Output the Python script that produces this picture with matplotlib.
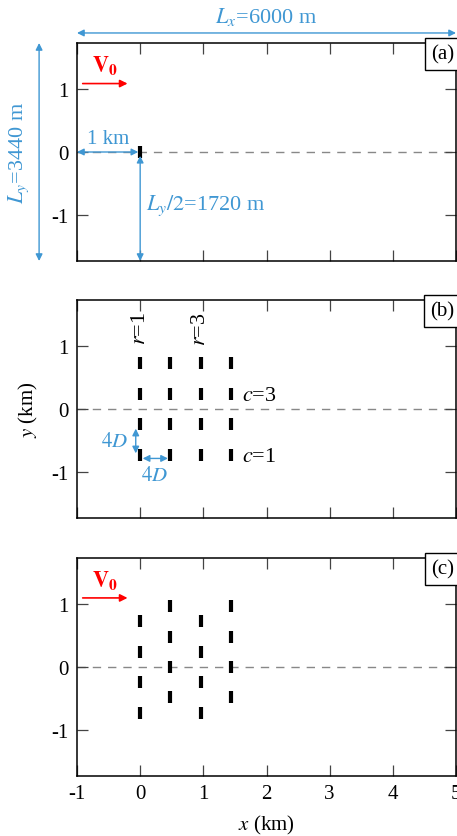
import matplotlib
matplotlib.use("Agg")
import matplotlib.pyplot as plt
import numpy as np

plt.rcParams['font.family'] = ['Liberation Serif', 'DejaVu Serif']
plt.rcParams['mathtext.fontset'] = 'stix'
plt.rcParams['axes.unicode_minus'] = False

# ---- data ----
x_ticks = [-1, 0, 1, 2, 3, 4, 5]
y_ticks = [-1, 0, 1]
x_lim = (-1.0, 5.0)
y_lim = (-1.72, 1.72)
panel_labels = ['(a)', '(b)', '(c)']

# turbine positions (km)
single_x = [0.0]
single_y = [0.0]
aligned_x = [0.0, 0.48, 0.96, 1.44] * 4
aligned_y = [-0.72] * 4 + [-0.24] * 4 + [0.24] * 4 + [0.72] * 4
stag_x = [0.0] * 4 + [0.48] * 4 + [0.96] * 4 + [1.44] * 4
stag_y = [-0.72, -0.24, 0.24, 0.72,
          -0.48, 0.0, 0.48, 0.96,
          -0.72, -0.24, 0.24, 0.72,
          -0.48, 0.0, 0.48, 0.96]
layouts = [(single_x, single_y), (aligned_x, aligned_y), (stag_x, stag_y)]

BLUE = '#3f97d3'
RED = '#ff0000'
FS = 15
half_len = 0.095

fig = plt.figure(figsize=(4.57, 8.37), dpi=100)
left = 77 / 457
width = 379 / 457
bottoms = [1 - 262 / 837, 1 - 519 / 837, 1 - 777 / 837]
height = 218 / 837
axes = []
for i, b in enumerate(bottoms):
    ax = fig.add_axes([left, b, width, height])
    axes.append(ax)
    ax.set_xlim(*x_lim)
    ax.set_ylim(*y_lim)
    ax.set_xticks(x_ticks)
    ax.set_yticks(y_ticks)
    ax.set_yticklabels([str(t) for t in y_ticks])
    if i == 2:
        ax.set_xticklabels([str(t) for t in x_ticks])
    else:
        ax.set_xticklabels([])
    ax.tick_params(direction='in', length=8, width=0.9, color='#444444',
                   top=True, right=True, labelsize=FS, pad=6)
    for s in ax.spines.values():
        s.set_linewidth(1.1)
    ax.axhline(0, color='#888888', lw=1.0, ls=(0, (6, 5)), zorder=1)
    tx, ty = layouts[i]
    ax.vlines(tx, np.array(ty) - half_len, np.array(ty) + half_len,
              color='black', lw=3, zorder=3)
    ax.text(0.996, 0.994, panel_labels[i], transform=ax.transAxes, ha='right', va='top',
            fontsize=FS, bbox=dict(boxstyle='square,pad=0.3', fc='white', ec='black', lw=1))

arrow_kw = dict(arrowstyle='<|-|>', color=BLUE, lw=1.0, mutation_scale=10,
                shrinkA=0, shrinkB=0)

# ---- panel (a) ----
ax = axes[0]
ax.annotate('', xy=(-1, 1.046), xytext=(5, 1.046), xycoords=('data', 'axes fraction'),
            textcoords=('data', 'axes fraction'), arrowprops=arrow_kw, annotation_clip=False)
ax.text(2.0, 1.125, r'$L_x$=6000 m', transform=ax.get_xaxis_transform(), ha='center',
        va='center', color=BLUE, fontsize=FS + 1)
ax.annotate('', xy=(-1.6, -1.72), xytext=(-1.6, 1.72), arrowprops=arrow_kw,
            annotation_clip=False)
ax.text(-1.93, 0.0, r'$L_y$=3440 m', rotation=90, ha='center', va='center',
        color=BLUE, fontsize=FS + 1, clip_on=False)
ax.annotate('', xy=(-1, 0), xytext=(-0.03, 0), arrowprops=arrow_kw)
ax.text(-0.5, 0.21, '1 km', ha='center', va='center', color=BLUE, fontsize=FS)
ax.annotate('', xy=(0, -1.72), xytext=(0, -0.06), arrowprops=arrow_kw)
ax.text(0.1, -0.83, r'$L_y/2$=1720 m', ha='left', va='center', color=BLUE, fontsize=FS + 1)

v_arrow = dict(arrowstyle='-|>', color=RED, lw=1.2, mutation_scale=11, shrinkA=0, shrinkB=0)
for ax, ya, yt in [(axes[0], 1.08, 1.36), (axes[2], 1.09, 1.36)]:
    ax.annotate('', xy=(-0.2, ya), xytext=(-0.91, ya), arrowprops=v_arrow)
    ax.text(-0.56, yt, r'$\mathbf{V_0}$', ha='center', va='center', color=RED, fontsize=FS + 1)

# ---- panel (b) ----
ax = axes[1]
ax.text(0.0, 1.28, r'$r$=1', rotation=90, ha='center', va='center', fontsize=FS + 1)
ax.text(0.96, 1.28, r'$r$=3', rotation=90, ha='center', va='center', fontsize=FS + 1)
ax.text(1.62, 0.21, r'$c$=3', ha='left', va='center', fontsize=FS + 1)
ax.text(1.62, -0.75, r'$c$=1', ha='left', va='center', fontsize=FS + 1)
ax.annotate('', xy=(-0.07, -0.31), xytext=(-0.07, -0.70), arrowprops=arrow_kw)
ax.text(-0.4, -0.52, r'$4D$', ha='center', va='center', color=BLUE, fontsize=FS)
ax.annotate('', xy=(0.04, -0.78), xytext=(0.44, -0.78), arrowprops=arrow_kw)
ax.text(0.23, -1.05, r'$4D$', ha='center', va='center', color=BLUE, fontsize=FS)
ax.set_ylabel(r'$y$ (km)', fontsize=FS, labelpad=8)

axes[2].set_xlabel(r'$x$ (km)', fontsize=FS, labelpad=7)

fig.savefig('out.png', dpi=100)
